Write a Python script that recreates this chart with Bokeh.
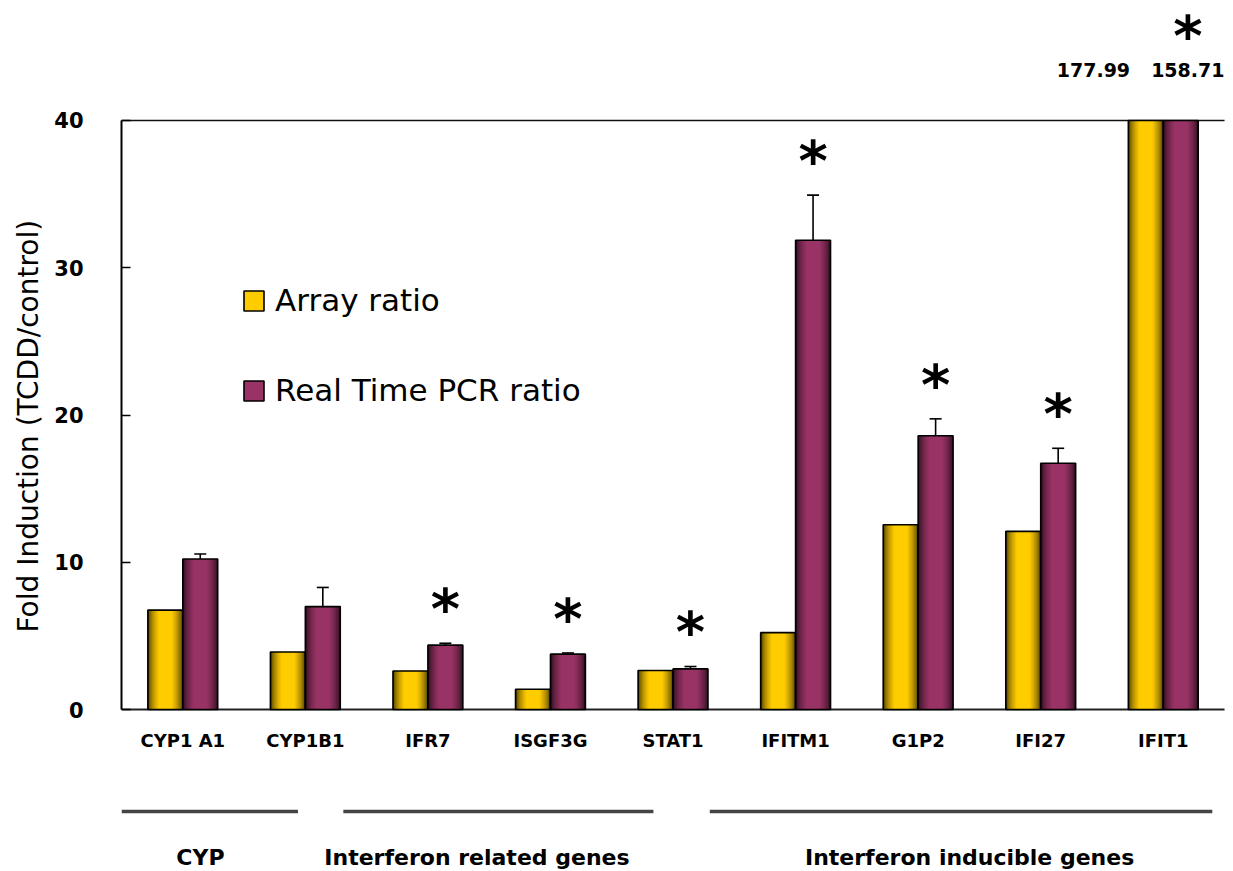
import numpy as np
from bokeh.plotting import figure
from bokeh.models import (ColumnDataSource, LinearAxis, FixedTicker, Range1d, Whisker,
                          TeeHead, Legend, LegendItem, Title)
from bokeh.core.properties import value
from bokeh.embed import file_html
from bokeh.resources import INLINE

# ---------------- data ----------------
genes = ["CYP1 A1", "CYP1B1", "IFR7", "ISGF3G", "STAT1", "IFITM1", "G1P2", "IFI27", "IFIT1"]
array_ratio = [6.75, 3.91, 2.62, 1.38, 2.65, 5.22, 12.55, 12.10, 177.99]
pcr_ratio = [10.22, 6.99, 4.37, 3.76, 2.76, 31.87, 18.59, 16.72, 158.71]
pcr_sd = [0.34, 1.30, 0.13, 0.08, 0.16, 3.06, 1.15, 1.02, None]
significant = [False, False, True, True, True, True, True, True, True]
groups = ["CYP", "Interferon related genes", "Interferon inducible genes"]
y_ticks = [0, 10, 20, 30, 40]
y_max = 40

# ---------------- layout constants ----------------
FONT = "DejaVu Sans"
BW = 0.285
YELLOW = (255, 204, 0)
PURPLE = (153, 51, 102)
X0, X1 = -0.5, 8.5

p = figure(width=1233, height=871, x_range=Range1d(X0, 8.573), y_range=Range1d(-11.0, 47.47),
           x_axis_type=None, y_axis_type=None, output_backend="svg", toolbar_location=None,
           min_border_left=121, min_border_right=0, min_border_top=10, min_border_bottom=0)
p.outline_line_color = None
p.background_fill_color = "white"
p.border_fill_color = "white"

# ---------------- y axis ----------------
yaxis = LinearAxis(bounds=(0, y_max), ticker=FixedTicker(ticks=y_ticks))
yaxis.major_tick_in = 9
yaxis.major_tick_out = 0
yaxis.minor_tick_in = 0
yaxis.minor_tick_out = 0
yaxis.axis_line_width = 2
yaxis.axis_line_color = "black"
yaxis.major_tick_line_width = 1.5
yaxis.major_tick_line_color = "black"
yaxis.major_label_standoff = 38
yaxis.major_label_text_font = FONT
yaxis.major_label_text_font_style = "bold"
yaxis.major_label_text_font_size = "21px"
yaxis.major_label_text_color = "black"
p.add_layout(yaxis, "left")

ylab = Title(text="Fold Induction (TCDD/control)", align="left", offset=239,
             text_font=FONT, text_font_size="28px", text_font_style="normal",
             text_color="black", standoff=13)
p.add_layout(ylab, "left")

# frame lines (baseline and top line of the plot box)
p.segment(x0=[X0, X0], x1=[X1, X1], y0=[0, y_max], y1=[0, y_max],
          line_color=["#222222", "#111111"], line_width=[2, 1.6])

# ---------------- bars ----------------
x = np.arange(len(genes), dtype=float)
shown_a = np.minimum(array_ratio, y_max)
shown_p = np.minimum(pcr_ratio, y_max)
src = ColumnDataSource(dict(xa=x - BW / 2, xp=x + BW / 2, a=shown_a, pc=shown_p))


def shade(rgb, b):
    return "#%02x%02x%02x" % tuple(int(round(c * b)) for c in rgb)


N = 14
renderers = {}
for col, xcol, base in (("a", "xa", YELLOW), ("pc", "xp", PURPLE)):
    top_r = None
    for k, t in enumerate(np.linspace(0, 1, N)):
        w = BW * (1 - 0.62 * t)
        b = 0.22 + 0.78 * (t ** 0.55)
        top_r = p.vbar(x=xcol, width=w, top=col, bottom=0, source=src,
                       fill_color=shade(base, b), line_color=None)
    outline = p.vbar(x=xcol, width=BW, top=col, bottom=0, source=src,
                     fill_color=None, line_color="black", line_width=1.6)
    renderers[col] = (top_r, outline)

# ---------------- error bars ----------------
ex, elo, ehi = [], [], []
for i, sd in enumerate(pcr_sd):
    if sd is not None:
        ex.append(x[i] + BW / 2)
        elo.append(pcr_ratio[i])
        ehi.append(pcr_ratio[i] + sd)
esrc = ColumnDataSource(dict(x=ex, lower=elo, upper=ehi))
p.add_layout(Whisker(source=esrc, base="x", lower="lower", upper="upper", dimension="height",
                     line_color="black", line_width=1.6, lower_head=None,
                     upper_head=TeeHead(size=12, line_width=1.6, line_color="black")))

# ---------------- values of clipped bars ----------------
LABEL_Y = 43.4
cx, cy, ct = [], [], []
pcr_label_x = {}
for i in range(len(genes)):
    if array_ratio[i] > y_max:
        cx.append(x[i] - 0.57); cy.append(LABEL_Y); ct.append("%.2f" % array_ratio[i])
    if pcr_ratio[i] > y_max:
        cx.append(x[i] + 0.20); cy.append(LABEL_Y); ct.append("%.2f" % pcr_ratio[i])
        pcr_label_x[i] = x[i] + 0.20
p.text(x=cx, y=cy, text=ct, text_font=value(FONT), text_font_style="bold",
       text_font_size="19px", text_align="center", text_baseline="middle", text_color="black")

# ---------------- significance stars ----------------
sx, sy = [], []
for i in range(len(genes)):
    if significant[i]:
        if pcr_ratio[i] > y_max:
            top = LABEL_Y
            sx.append(pcr_label_x[i])
        else:
            top = pcr_ratio[i] + (pcr_sd[i] or 0)
            sx.append(x[i] + BW / 2)
        sy.append(top + 2.9)
p.text(x=sx, y=sy, text=["*"] * len(sx), text_font=value(FONT), text_font_style="bold",
       text_font_size="56px", text_align="center", text_baseline="alphabetic",
       y_offset=8, text_color="black")

# ---------------- category labels ----------------
p.text(x=x, y=[-2.1] * len(genes), text=genes, text_font=value(FONT), text_font_style="bold",
       text_font_size="18px", text_align="center", text_baseline="middle", text_color="black")

# ---------------- group lines / labels ----------------
p.segment(x0=[-0.50, 1.31, 4.30], x1=[0.94, 3.84, 8.40], y0=[-6.93] * 3, y1=[-6.93] * 3,
          line_color="#444444", line_width=3.5)
p.text(x=[0.144, 2.40, 6.42], y=[-10.05] * 3, text=groups, text_font=value(FONT),
       text_font_style="bold", text_font_size="22px", text_align="center",
       text_baseline="alphabetic", text_color="black")

# ---------------- legend ----------------
legend = Legend(items=[LegendItem(label="Array ratio", renderers=list(renderers["a"])),
                       LegendItem(label="Real Time PCR ratio", renderers=list(renderers["pc"]))],
                location=(120, 463), orientation="vertical", padding=0, spacing=54, margin=0,
                glyph_width=25, glyph_height=25, label_standoff=9, label_height=23,
                label_text_font=FONT, label_text_font_size="31px", label_text_color="black",
                border_line_color=None, background_fill_alpha=0)
p.add_layout(legend)

open("out.html", "w").write(file_html(p, INLINE))
